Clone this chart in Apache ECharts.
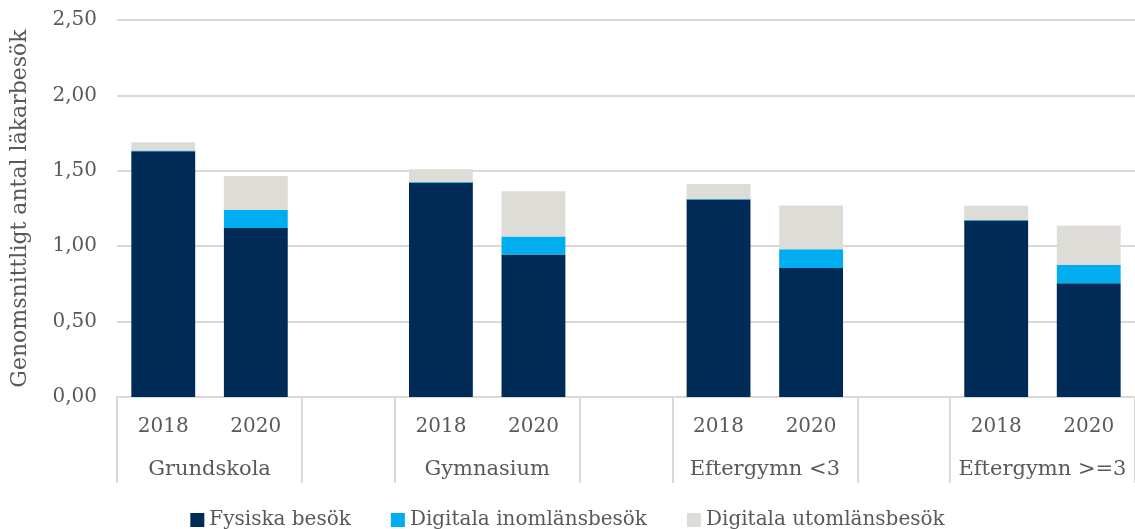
<!DOCTYPE html>
<html>
<head>
<meta charset="utf-8">
<script src="https://cdn.jsdelivr.net/npm/echarts@6/dist/echarts.min.js"></script>
<style>
  html, body { margin: 0; padding: 0; background: #ffffff; }
  #chart { width: 1135px; height: 529px; }
</style>
</head>
<body>
<div id="chart"></div>
<script>
// Year slots per school level; an empty slot separates the groups
const years = ['2018', '2020', '', '2018', '2020', '', '2018', '2020', '', '2018', '2020'];
const groups = ['Grundskola', 'Gymnasium', 'Eftergymn <3', 'Eftergymn >=3'];

// Average number of doctor visits per person
const fysiska    = [1.63, 1.12, null, 1.42, 0.945, null, 1.31, 0.855, null, 1.17, 0.755];
const inomlans   = [0.005, 0.12, null, 0.005, 0.12, null, 0.003, 0.125, null, 0.003, 0.12];
const utomlans   = [0.055, 0.225, null, 0.085, 0.30, null, 0.10, 0.29, null, 0.095, 0.26];

const seriesNames = ['Fysiska besök', 'Digitala inomlänsbesök', 'Digitala utomlänsbesök'];
const yTicks = { min: 0, max: 2.5, step: 0.5 };

const FONT = "'DejaVu Serif', Georgia, serif";
const TEXT = '#595959';
const GRID = '#d9d9d9';

const chart = echarts.init(document.getElementById('chart'));

const mkBar = (name, data, color) => ({
  name, type: 'bar', stack: 'total', data,
  xAxisIndex: 0, barWidth: '69%',
  itemStyle: { color },
  emphasis: { disabled: true }
});

chart.setOption({
  animation: false,
  textStyle: { fontFamily: FONT },
  grid: { left: 117, right: 0, top: 20, bottom: 132, containLabel: false },
  legend: {
    bottom: -6, left: 'center',
    icon: 'rect', itemWidth: 14, itemHeight: 14, itemGap: 40,
    textStyle: { fontFamily: FONT, fontSize: 20, color: TEXT },
    data: seriesNames
  },
  xAxis: [
    {
      type: 'category', data: years, position: 'bottom',
      axisLine: { show: true, lineStyle: { color: GRID, width: 2 } },
      axisTick: { show: false },
      axisLabel: { fontFamily: FONT, fontSize: 20, color: TEXT, margin: 20 }
    },
    {
      type: 'value', min: 0, max: years.length, position: 'bottom',
      axisLine: { show: false },
      splitLine: { show: false },
      axisTick: {
        show: true, length: 86, inside: false,
        customValues: [0, 2, 3, 5, 6, 8, 9, 11],
        lineStyle: { color: GRID, width: 2 }
      },
      axisLabel: {
        customValues: [1, 4, 7, 10],
        formatter: v => groups[Math.round((v - 1) / 3)],
        fontFamily: FONT, fontSize: 21, color: TEXT, margin: 62
      }
    }
  ],
  yAxis: {
    type: 'value', min: yTicks.min, max: yTicks.max, interval: yTicks.step,
    name: 'Genomsnittligt antal läkarbesök',
    nameLocation: 'middle', nameGap: 86, nameRotate: 90,
    nameTextStyle: { fontFamily: FONT, fontSize: 22, color: TEXT },
    axisLine: { show: false },
    axisTick: { show: false },
    splitLine: { lineStyle: { color: GRID, width: 2 } },
    axisLabel: {
      fontFamily: FONT, fontSize: 20, color: TEXT, margin: 20,
      formatter: v => v.toFixed(2).replace('.', ',')
    }
  },
  series: [
    mkBar(seriesNames[0], fysiska, '#002b57'),
    mkBar(seriesNames[1], inomlans, '#00aeef'),
    mkBar(seriesNames[2], utomlans, '#dddcd7')
  ]
});
</script>
</body>
</html>
